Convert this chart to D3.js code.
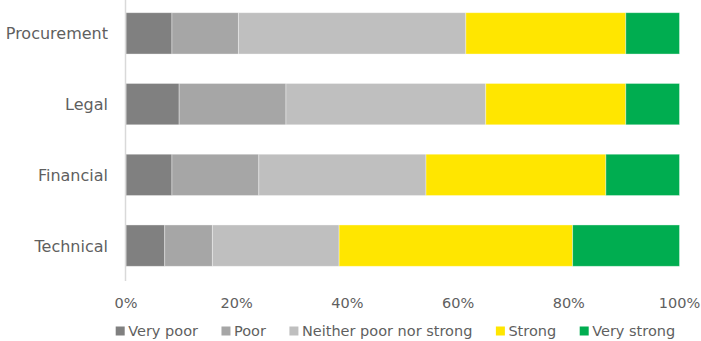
<!DOCTYPE html>
<html>
<head>
<meta charset="utf-8">
<script src="https://cdn.jsdelivr.net/npm/d3@7"></script>
<style>
  body { margin: 0; background: #fff; }
  svg { display: block; }
  text { font-family: "DejaVu Sans", sans-serif; fill: #5f5f5f; }
</style>
</head>
<body>
<div id="chart"></div>
<script>
(function() {
  var categories, seriesNames, colors, veryPoor, poor, neither, strong, veryStrong, tickValues;
  var width, height, svg, x, y, stack, rows, layers, legend, lx;

  categories = ['Procurement', 'Legal', 'Financial', 'Technical'];
  seriesNames = ['Very poor', 'Poor', 'Neither poor nor strong', 'Strong', 'Very strong'];
  colors = ['#808080', '#a6a6a6', '#bfbfbf', '#ffe600', '#00ad50'];

  // share of answers per category, in %
  veryPoor   = [8.3, 9.6, 8.3, 7.0];
  poor       = [12.0, 19.3, 15.7, 8.6];
  neither    = [41.1, 36.1, 30.2, 22.9];
  strong     = [28.9, 25.3, 32.5, 42.2];
  veryStrong = [9.7, 9.7, 13.3, 19.3];

  tickValues = [0, 0.2, 0.4, 0.6, 0.8, 1];

  width = 701;
  height = 341;

  rows = categories.map(function(c, i) {
    return {
      category: c,
      'Very poor': veryPoor[i],
      'Poor': poor[i],
      'Neither poor nor strong': neither[i],
      'Strong': strong[i],
      'Very strong': veryStrong[i]
    };
  });

  stack = d3.stack().keys(seriesNames).offset(d3.stackOffsetExpand);
  layers = stack(rows);

  svg = d3.select('#chart').append('svg').attr('width', width).attr('height', height);

  x = d3.scaleLinear().domain([0, 1]).range([126, 679.5]);
  y = d3.scaleBand().domain(categories).range([-2, 281]).paddingInner(0.416).paddingOuter(0.208);

  svg.selectAll('g.layer').data(layers).enter().append('g')
    .attr('class', 'layer')
    .attr('fill', function(d, i) { return colors[i]; })
    .selectAll('rect').data(function(d) { return d; }).enter().append('rect')
    .attr('x', function(d) { return x(d[0]); })
    .attr('y', function(d) { return y(d.data.category); })
    .attr('width', function(d) { return x(d[1]) - x(d[0]); })
    .attr('height', y.bandwidth())
    .attr('stroke', '#fff')
    .attr('stroke-opacity', 0.45)
    .attr('stroke-width', 0.8);

  // vertical axis line
  svg.append('line')
    .attr('x1', 125.5).attr('x2', 125.5)
    .attr('y1', 0).attr('y2', 281)
    .attr('stroke', '#d9d9d9').attr('stroke-width', 1.5);

  // category labels
  svg.selectAll('text.cat').data(categories).enter().append('text')
    .attr('class', 'cat')
    .attr('x', 108)
    .attr('y', function(d) { return y(d) + y.bandwidth() / 2 + 6; })
    .attr('text-anchor', 'end')
    .style('font-size', '16px')
    .text(function(d) { return d; });

  // x tick labels
  svg.selectAll('text.tick').data(tickValues).enter().append('text')
    .attr('class', 'tick')
    .attr('x', function(d) { return x(d); })
    .attr('y', 307.5)
    .attr('text-anchor', 'middle')
    .style('font-size', '14.5px')
    .text(d3.format('.0%'));

  // legend
  legend = svg.append('g').attr('class', 'legend');
  lx = 115.7;
  seriesNames.forEach(function(name, i) {
    var g, t;
    g = legend.append('g');
    g.append('rect')
      .attr('x', lx).attr('y', 326.5)
      .attr('width', 9).attr('height', 9)
      .attr('fill', colors[i]);
    t = g.append('text')
      .attr('x', lx + 12.5)
      .attr('y', 335.5)
      .style('font-size', '14.5px')
      .text(name);
    lx = lx + 12.5 + t.node().getComputedTextLength() + 23.5;
  });

}).call(this);
</script>
</body>
</html>
